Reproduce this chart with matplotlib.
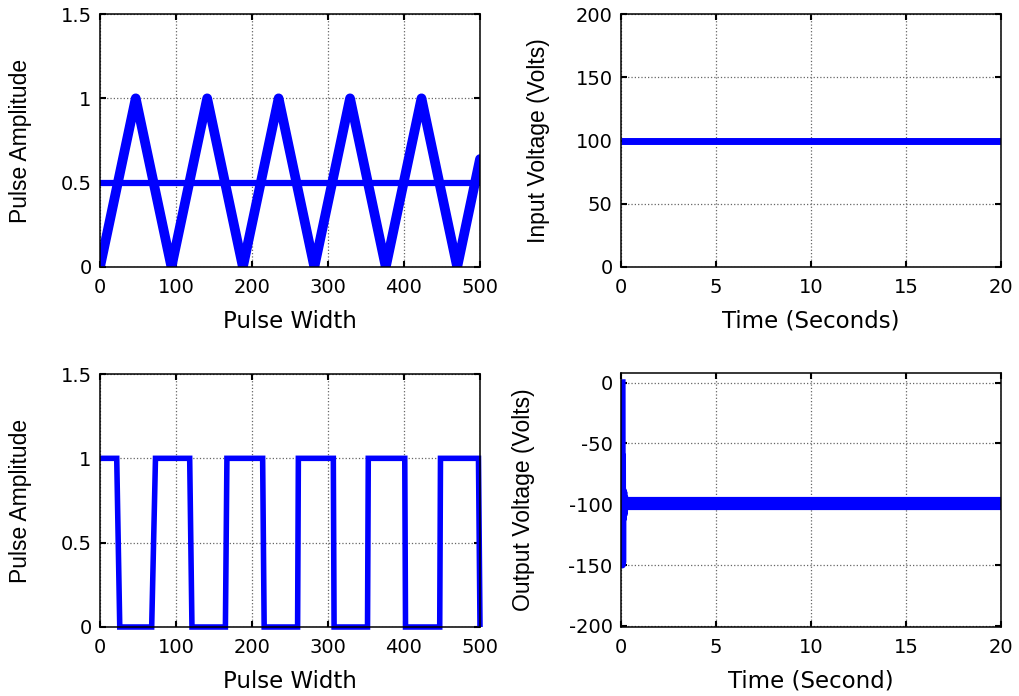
import matplotlib
matplotlib.use("Agg")
import matplotlib.pyplot as plt

# ---- data ----
tri_x = [0, 47, 94, 141, 188, 235, 282, 329, 376, 423, 470, 500]
tri_y = [0, 1, 0, 1, 0, 1, 0, 1, 0, 1, 0, 0.64]
ref_x = [0, 500]
ref_y = [0.5, 0.5]

sq_x = [0, 22, 26, 68, 73, 118, 121, 165, 167, 214, 216, 260, 261, 307, 308,
        352, 353, 401, 402, 447, 448, 498, 500]
sq_y = [1, 1, 0, 0, 1, 1, 0, 0, 1, 1, 0, 0, 1, 1, 0, 0, 1, 1, 0, 0, 1, 1, 0]

vin_t = [0, 20]
vin_v = [100, 100]

vout_tr_t = [0.06, 0.07, 0.08, 0.09, 0.1, 0.12, 0.15, 0.18, 0.22, 0.27, 0.32]
vout_tr_v = [0, -150, -60, -148, -88, -112, -90, -108, -95, -102, -99]
vout_ss_t = [0.3, 20]
vout_ss_v = [-99, -99]

pulse_ticks = [0, 100, 200, 300, 400, 500]
amp_ticks = [0, 0.5, 1, 1.5]
amp_labels = ['0', '0.5', '1', '1.5']
time_ticks = [0, 5, 10, 15, 20]
vin_ticks = [0, 50, 100, 150, 200]
vout_ticks = [-200, -150, -100, -50, 0]

plt.rcParams['font.family'] = ['DejaVu Sans']
plt.rcParams['axes.unicode_minus'] = False
TFS = 14
LFS = 16.5
YFONT = ['Liberation Sans', 'DejaVu Sans']
BLUE = (0, 0, 1)

fig = plt.figure(figsize=(10.2, 6.96), dpi=100)
W, H = 1020, 696

def mkax(l, t, r, b):
    ax = fig.add_axes([l / W, (H - b) / H, (r - l) / W, (b - t) / H])
    ax.tick_params(direction='in', top=True, right=True, length=4, width=1.5,
                   labelsize=TFS)
    ax.tick_params(axis='x', pad=8)
    ax.tick_params(axis='y', pad=6)
    for s in ax.spines.values():
        s.set_linewidth(1.1)
    ax.grid(True, color='#666666', linestyle=':', linewidth=0.9)
    return ax

def ylab(ax, text, xfrac):
    ax.set_ylabel(text, fontsize=LFS, family=YFONT)
    ax.yaxis.set_label_coords(xfrac, 0.5)

ax1 = mkax(100, 14, 480, 267)
ax1.plot(ref_x, ref_y, color=BLUE, lw=4.5, solid_capstyle='butt')
ax1.plot(tri_x, tri_y, color=BLUE, lw=7, solid_joinstyle='round', solid_capstyle='round')
ax1.set_xlim(0, 500)
ax1.set_ylim(0, 1.5)
ax1.set_xticks(pulse_ticks)
ax1.set_yticks(amp_ticks)
ax1.set_yticklabels(amp_labels)
ax1.set_xlabel('Pulse Width', fontsize=LFS, labelpad=9)
ylab(ax1, 'Pulse Amplitude', -0.179)

ax2 = mkax(621, 14, 1001, 267)
ax2.plot(vin_t, vin_v, color=BLUE, lw=5, solid_capstyle='butt')
ax2.set_xlim(0, 20)
ax2.set_ylim(0, 200)
ax2.set_xticks(time_ticks)
ax2.set_yticks(vin_ticks)
ax2.set_xlabel('Time (Seconds)', fontsize=LFS, labelpad=9)
ylab(ax2, 'Input Voltage (Volts)', -0.187)

ax3 = mkax(100, 374, 480, 627)
ax3.plot(sq_x, sq_y, color=BLUE, lw=4, solid_joinstyle='miter', solid_capstyle='butt', clip_on=False)
ax3.set_xlim(0, 500)
ax3.set_ylim(0, 1.5)
ax3.set_xticks(pulse_ticks)
ax3.set_yticks(amp_ticks)
ax3.set_yticklabels(amp_labels)
ax3.set_xlabel('Pulse Width', fontsize=LFS, labelpad=9)
ylab(ax3, 'Pulse Amplitude', -0.179)

ax4 = mkax(621, 373, 1001, 627)
ax4.plot(vout_ss_t, vout_ss_v, color=BLUE, lw=9.5, solid_capstyle='butt')
ax4.plot(vout_tr_t, vout_tr_v, color=BLUE, lw=5)
ax4.set_xlim(0, 20)
ax4.set_ylim(-201, 8)
ax4.set_xticks(time_ticks)
ax4.set_yticks(vout_ticks)
ax4.set_xlabel('Time (Second)', fontsize=LFS, labelpad=9)
ylab(ax4, 'Output Voltage (Volts)', -0.226)

fig.savefig('out.png', dpi=100)
